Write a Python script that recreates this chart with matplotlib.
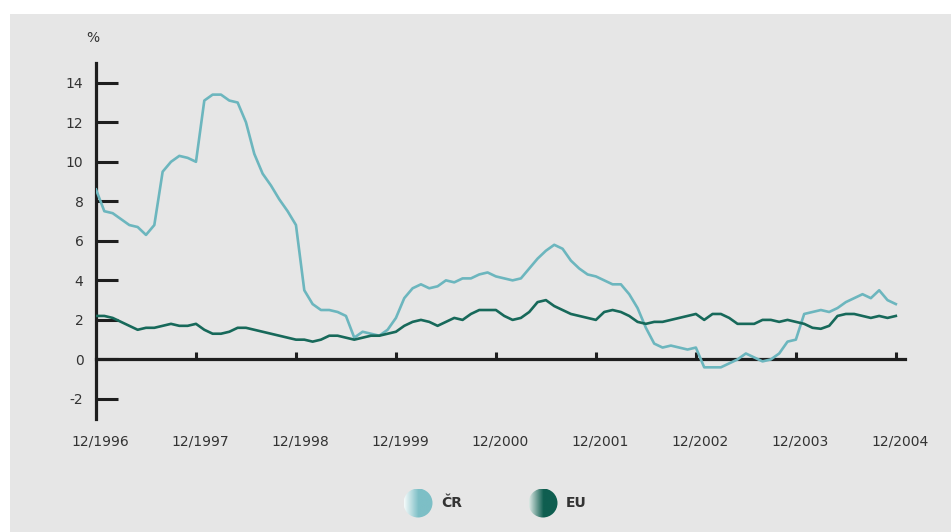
import numpy as np
import matplotlib
matplotlib.use("Agg")
import matplotlib.pyplot as plt
from matplotlib.patches import Rectangle, Circle
from matplotlib.colors import LinearSegmentedColormap
from matplotlib.transforms import ScaledTranslation

# Monthly year-on-year inflation, 12/1996 .. 12/2004
cz_values = [
    8.6, 7.5, 7.4, 7.1, 6.8, 6.7, 6.3, 6.8, 9.5, 10.0, 10.3, 10.2,
    10.0, 13.1, 13.4, 13.4, 13.1, 13.0, 12.0, 10.4, 9.4, 8.8, 8.1, 7.5,
    6.8, 3.5, 2.8, 2.5, 2.5, 2.4, 2.2, 1.1, 1.4, 1.3, 1.2, 1.5,
    2.1, 3.1, 3.6, 3.8, 3.6, 3.7, 4.0, 3.9, 4.1, 4.1, 4.3, 4.4,
    4.2, 4.1, 4.0, 4.1, 4.6, 5.1, 5.5, 5.8, 5.6, 5.0, 4.6, 4.3,
    4.2, 4.0, 3.8, 3.8, 3.3, 2.6, 1.6, 0.8, 0.6, 0.7, 0.6, 0.5,
    0.6, -0.4, -0.4, -0.4, -0.2, 0.0, 0.3, 0.1, -0.1, 0.0, 0.3, 0.9,
    1.0, 2.3, 2.4, 2.5, 2.4, 2.6, 2.9, 3.1, 3.3, 3.1, 3.5, 3.0,
    2.8,
]
eu_values = [
    2.2, 2.2, 2.1, 1.9, 1.7, 1.5, 1.6, 1.6, 1.7, 1.8, 1.7, 1.7,
    1.8, 1.5, 1.3, 1.3, 1.4, 1.6, 1.6, 1.5, 1.4, 1.3, 1.2, 1.1,
    1.0, 1.0, 0.9, 1.0, 1.2, 1.2, 1.1, 1.0, 1.1, 1.2, 1.2, 1.3,
    1.4, 1.7, 1.9, 2.0, 1.9, 1.7, 1.9, 2.1, 2.0, 2.3, 2.5, 2.5,
    2.5, 2.2, 2.0, 2.1, 2.4, 2.9, 3.0, 2.7, 2.5, 2.3, 2.2, 2.1,
    2.0, 2.4, 2.5, 2.4, 2.2, 1.9, 1.8, 1.9, 1.9, 2.0, 2.1, 2.2,
    2.3, 2.0, 2.3, 2.3, 2.1, 1.8, 1.8, 1.8, 2.0, 2.0, 1.9, 2.0,
    1.9, 1.8, 1.6, 1.55, 1.7, 2.2, 2.3, 2.3, 2.2, 2.1, 2.2, 2.1,
    2.2,
]
x_labels = ["12/1996", "12/1997", "12/1998", "12/1999", "12/2000",
            "12/2001", "12/2002", "12/2003", "12/2004"]
y_ticks = [-2, 0, 2, 4, 6, 8, 10, 12, 14]
series_names = ["ČR", "EU"]

CZ_COLOR = "#6cb6be"
EU_COLOR = "#17695a"
TEXT_COLOR = "#333333"
AXIS_COLOR = "#1e1e1e"

W, H = 951, 532
fig = plt.figure(figsize=(W / 100, H / 100), dpi=100, facecolor="white")

# grey panel behind everything
fig.patches.append(Rectangle((10 / W, 0), 1 - 10 / W, 1 - 14 / H,
                             transform=fig.transFigure, facecolor="#e6e6e6",
                             edgecolor="none", zorder=-10))

ax = fig.add_axes([96 / W, 1 - 418.7 / H, (905 - 96) / W, (418.7 - 63) / H])
ax.set_facecolor("none")

months = np.arange(len(cz_values))
ax.plot(months, cz_values, color=CZ_COLOR, lw=1.9, solid_joinstyle="round", zorder=3)
ax.plot(months, eu_values, color=EU_COLOR, lw=1.9, solid_joinstyle="round", zorder=4)

ax.set_xlim(0, 97.1)
ax.set_ylim(-3, 15)

for side in ("top", "right"):
    ax.spines[side].set_visible(False)
ax.spines["left"].set_linewidth(2.3)
ax.spines["left"].set_color(AXIS_COLOR)
ax.spines["bottom"].set_position(("data", 0))
ax.spines["bottom"].set_linewidth(2.3)
ax.spines["bottom"].set_color(AXIS_COLOR)
ax.spines["bottom"].set_zorder(2)

ax.set_yticks(y_ticks)
ax.set_yticklabels([str(v) for v in y_ticks])
ax.tick_params(axis="y", direction="in", length=16, width=2.2, color=AXIS_COLOR,
               pad=9, labelsize=10, labelcolor=TEXT_COLOR)

xt = np.arange(0, 12 * len(x_labels), 12)
ax.set_xticks(xt)
ax.set_xticklabels(x_labels)
ax.tick_params(axis="x", direction="in", length=5, width=2.2, color=AXIS_COLOR,
               pad=54, labelsize=10, labelcolor=TEXT_COLOR)
ax.xaxis.get_major_ticks()[0].tick1line.set_visible(False)
shift = ScaledTranslation(4 / 100, 0, fig.dpi_scale_trans)
for lbl in ax.get_xticklabels():
    lbl.set_transform(lbl.get_transform() + shift)

fig.text(93 / W, 1 - 38 / H, "%", ha="center", va="center", fontsize=10,
         color=TEXT_COLOR)

# legend with shaded discs
def shaded_disc(cx, cy, r, light, color, name, tx):
    dax = fig.add_axes([(cx - r) / W, 1 - (cy + r) / H, 2 * r / W, 2 * r / H])
    dax.set_axis_off()
    cmap = LinearSegmentedColormap.from_list("g", [light, color, color])
    grad = np.linspace(0, 1, 128).reshape(1, -1)
    im = dax.imshow(grad, cmap=cmap, aspect="auto", extent=(0, 1, 0, 1))
    clip = Circle((0.5, 0.5), 0.5, transform=dax.transData)
    im.set_clip_path(clip)
    dax.set_xlim(0, 1)
    dax.set_ylim(0, 1)
    fig.text(tx / W, 1 - cy / H, name, ha="left", va="center", fontsize=10,
             color=TEXT_COLOR, fontweight="bold")

shaded_disc(418, 503, 14.5, "#f6fbfb", "#7dbfc6", series_names[0], 441)
shaded_disc(543, 503, 14.5, "#dce9e5", "#0f5e50", series_names[1], 566)

fig.savefig("out.png", dpi=100, facecolor=fig.get_facecolor())
